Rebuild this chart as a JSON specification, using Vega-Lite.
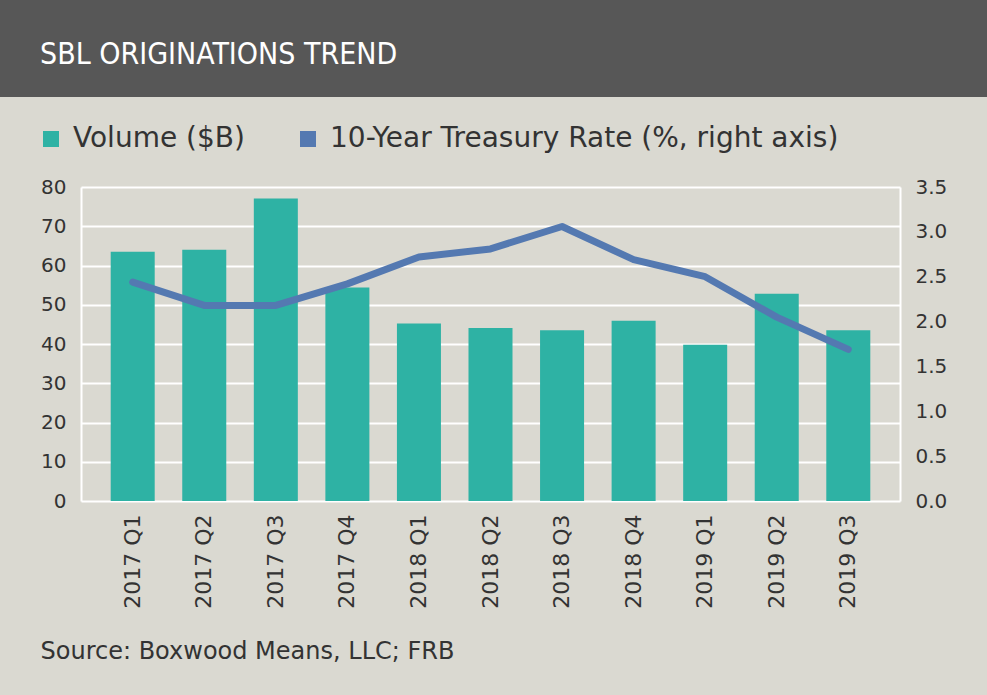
{
  "$schema": "https://vega.github.io/schema/vega-lite/v6.json",
  "width": 819,
  "height": 418,
  "autosize": "none",
  "padding": {"left": 81, "top": 187, "right": 87, "bottom": 90},
  "background": "#575757",
  "view": {"fill": "#dad9d1", "stroke": "#dad9d1", "strokeWidth": 180, "strokeJoin": "miter"},
  "config": {
    "font": "DejaVu Sans",
    "axis": {"labelColor": "#333333", "titleColor": "#333333"}
  },
  "title": {
    "text": "SBL ORIGINATIONS TREND",
    "font": "DejaVu Sans Condensed, Liberation Sans Narrow, DejaVu Sans, sans-serif",
    "fontSize": 30,
    "fontWeight": "normal",
    "color": "#ffffff",
    "anchor": "start",
    "frame": "group",
    "baseline": "alphabetic",
    "dx": -41,
    "offset": 31
  },
  "data": {
    "values": [
      {"quarter": "2017 Q1", "volume": 63.5, "rate": 2.44},
      {"quarter": "2017 Q2", "volume": 64.0, "rate": 2.18},
      {"quarter": "2017 Q3", "volume": 77.1, "rate": 2.18},
      {"quarter": "2017 Q4", "volume": 54.4, "rate": 2.42},
      {"quarter": "2018 Q1", "volume": 45.2, "rate": 2.72},
      {"quarter": "2018 Q2", "volume": 44.1, "rate": 2.81},
      {"quarter": "2018 Q3", "volume": 43.5, "rate": 3.06},
      {"quarter": "2018 Q4", "volume": 45.9, "rate": 2.69},
      {"quarter": "2019 Q1", "volume": 39.8, "rate": 2.50},
      {"quarter": "2019 Q2", "volume": 52.8, "rate": 2.05},
      {"quarter": "2019 Q3", "volume": 43.5, "rate": 1.69}
    ]
  },
  "encoding": {
    "x": {
      "field": "quarter",
      "type": "nominal",
      "sort": null,
      "scale": {"paddingInner": 0.385, "paddingOuter": 0.415},
      "axis": {
        "offset": -104,
        "labelAngle": -90,
        "labelFontSize": 22,
        "labelPadding": 13,
        "ticks": false,
        "domain": false,
        "grid": false,
        "title": "Source: Boxwood Means, LLC; FRB",
        "titleFontSize": 24,
        "titleFontWeight": "normal",
        "titleAlign": "left",
        "titleBaseline": "alphabetic",
        "titleAnchor": "start",
        "titleX": -41,
        "titleY": 157
      }
    }
  },
  "layer": [
    {
      "mark": {"type": "bar"},
      "encoding": {
        "y": {
          "field": "volume",
          "type": "quantitative",
          "scale": {"domain": [0, 80], "range": [314, 0], "nice": false},
          "axis": {
            "orient": "left",
            "values": [0, 10, 20, 30, 40, 50, 60, 70, 80],
            "grid": true,
            "gridColor": "#ffffff",
            "gridWidth": 2,
            "gridOpacity": 1,
            "domain": true,
            "domainColor": "#ffffff",
            "domainWidth": 2,
            "ticks": false,
            "labelFontSize": 20,
            "labelPadding": 15,
            "title": null
          }
        },
        "color": {
          "datum": "Volume ($B)",
          "scale": {
            "domain": ["Volume ($B)", "10-Year Treasury Rate (%, right axis)"],
            "range": ["#2eb2a4", "#5479b1"]
          },
          "legend": {
            "orient": "none",
            "legendX": -44,
            "legendY": -62,
            "direction": "horizontal",
            "title": null,
            "symbolType": "square",
            "symbolSize": 256,
            "symbolStrokeWidth": 0,
            "labelFontSize": 28,
            "labelColor": "#333333",
            "labelOffset": 8,
            "labelLimit": 800,
            "columnPadding": 49,
            "padding": 0
          }
        }
      }
    },
    {
      "mark": {"type": "line", "strokeWidth": 7, "strokeCap": "round", "strokeJoin": "round"},
      "encoding": {
        "y": {
          "field": "rate",
          "type": "quantitative",
          "scale": {"domain": [0, 3.5], "range": [314, 0], "nice": false},
          "axis": {
            "orient": "right",
            "values": [0, 0.5, 1, 1.5, 2, 2.5, 3, 3.5],
            "format": ".1f",
            "grid": false,
            "domain": true,
            "domainColor": "#ffffff",
            "domainWidth": 2,
            "ticks": false,
            "labelFontSize": 20,
            "labelPadding": 15,
            "title": null
          }
        },
        "color": {"datum": "10-Year Treasury Rate (%, right axis)"}
      }
    }
  ],
  "resolve": {"scale": {"y": "independent"}}
}
